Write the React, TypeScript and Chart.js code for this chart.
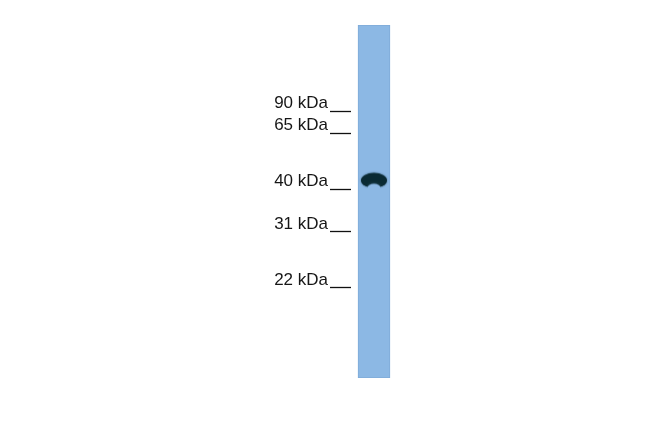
import { useRef, useEffect } from 'react'
import { Chart, registerables } from 'chart.js'

Chart.register(...registerables)

// ─── Data ────────────────────────────────────────────────────────────────────
// Positions are relative migration down the lane (0 = well, 1 = lane end).

const LANES        = ['Lane 1']
const LANE_SPAN    = [[0, 1]]
const MARKER_KDA   = [90, 65, 40, 31, 22]
const MARKER_POS   = [0.244, 0.307, 0.465, 0.586, 0.745]
const BAND_POS     = [0.44]

// ─── Styling ─────────────────────────────────────────────────────────────────

const LANE_COLOR   = '#8cb8e4'
const LANE_EDGE    = '#7fabd8'
const BAND_COLOR   = '#0a2a33'
const LABEL_FONT   = "Arial, 'Liberation Sans', sans-serif"

function makeBandSprite(): HTMLCanvasElement {
  const c = document.createElement('canvas')
  c.width = 32
  c.height = 22
  const g = c.getContext('2d')!
  g.fillStyle = BAND_COLOR
  g.shadowColor = 'rgba(10,42,51,0.6)'
  g.shadowBlur = 2
  g.beginPath()
  g.ellipse(16, 11, 13, 7.5, 0, 0, Math.PI * 2)
  g.fill()
  // notch on the underside gives the arched shape
  g.globalCompositeOperation = 'destination-out'
  g.shadowBlur = 2
  g.beginPath()
  g.ellipse(16, 18.5, 6.5, 4, 0, 0, Math.PI * 2)
  g.fill()
  return c
}

export default function App() {
  const canvasRef = useRef<HTMLCanvasElement>(null)

  useEffect(() => {
    const canvas = canvasRef.current
    if (!canvas) return
    document.body.style.margin = '0'

    const chart = new Chart(canvas, {
      type: 'bar',
      data: {
        labels: LANES,
        datasets: [
          {
            label: 'Lane',
            data: LANE_SPAN as any,
            backgroundColor: LANE_COLOR,
            borderColor: LANE_EDGE,
            borderWidth: 1,
            borderSkipped: false,
            barThickness: 32,
            order: 2,
          },
          {
            type: 'line',
            label: 'Band',
            data: BAND_POS,
            showLine: false,
            pointStyle: makeBandSprite(),
            pointRadius: 8,
            order: 1,
          } as any,
        ],
      },
      options: {
        animation: false,
        responsive: false,
        layout: { padding: { left: 0, right: 253, top: 25, bottom: 55 } },
        plugins: { legend: { display: false }, tooltip: { enabled: false } },
        scales: {
          x: { display: false },
          y: {
            min: 0,
            max: 1,
            reverse: true,
            afterFit: (s: any) => { s.width = 351 },
            afterBuildTicks: (s: any) => {
              s.ticks = MARKER_POS.map((v) => ({ value: v }))
            },
            ticks: {
              callback: (_v: any, i: number) => `${MARKER_KDA[i]} kDa`,
              color: '#161616',
              font: { size: 17, family: LABEL_FONT },
              padding: 2,
              labelOffset: -8,
              autoSkip: false,
            },
            grid: {
              drawOnChartArea: false,
              drawTicks: true,
              tickLength: 21,
              tickColor: '#111',
              tickWidth: 1.3,
            },
            border: { display: false },
          },
        },
      },
    })

    return () => chart.destroy()
  }, [])

  return (
    <div style={{ width: 650, height: 433, background: '#fff' }}>
      <canvas ref={canvasRef} width={650} height={433} style={{ display: 'block' }} />
    </div>
  )
}
